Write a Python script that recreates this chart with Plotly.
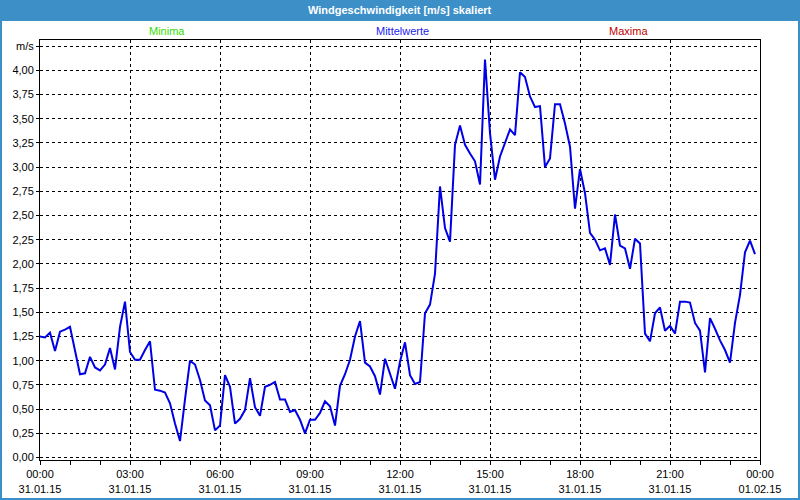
import plotly.graph_objects as go
import pandas as pd

# 10-minute mean wind speed values for 31.01.15 (m/s)
wind_values = [
    1.25, 1.24, 1.29, 1.10, 1.30, 1.32, 1.35, 1.12, 0.86, 0.87,
    1.04, 0.93, 0.90, 0.96, 1.13, 0.91, 1.35, 1.61, 1.09, 1.01,
    1.01, 1.11, 1.20, 0.70, 0.69, 0.67, 0.56, 0.35, 0.17, 0.60,
    1.00, 0.96, 0.80, 0.59, 0.54, 0.28, 0.33, 0.85, 0.73, 0.35,
    0.40, 0.49, 0.82, 0.52, 0.43, 0.73, 0.75, 0.78, 0.60, 0.60,
    0.47, 0.49, 0.39, 0.25, 0.39, 0.39, 0.46, 0.58, 0.53, 0.33,
    0.74, 0.86, 1.01, 1.25, 1.41, 0.98, 0.94, 0.84, 0.65, 1.02,
    0.87, 0.71, 0.99, 1.19, 0.85, 0.76, 0.78, 1.49, 1.58, 1.90,
    2.80, 2.37, 2.23, 3.23, 3.43, 3.23, 3.14, 3.06, 2.82, 4.11,
    3.35, 2.87, 3.11, 3.25, 3.39, 3.33, 3.98, 3.93, 3.73, 3.62,
    3.63, 3.00, 3.09, 3.65, 3.65, 3.45, 3.21, 2.57, 2.98, 2.73,
    2.32, 2.25, 2.14, 2.16, 1.99, 2.51, 2.19, 2.16, 1.95, 2.26,
    2.21, 1.28, 1.20, 1.49, 1.55, 1.31, 1.36, 1.28, 1.61, 1.61,
    1.60, 1.39, 1.31, 0.88, 1.44, 1.33, 1.21, 1.11, 0.98, 1.39,
    1.68, 2.12, 2.24, 2.10,
]
times = pd.date_range("2015-01-31 00:00", periods=len(wind_values), freq="10min")

x_tick_vals = ["2015-01-31 00:00", "2015-01-31 03:00", "2015-01-31 06:00", "2015-01-31 09:00",
               "2015-01-31 12:00", "2015-01-31 15:00", "2015-01-31 18:00", "2015-01-31 21:00",
               "2015-02-01 00:00"]
x_tick_text = ["00:00<br>31.01.15", "03:00<br>31.01.15", "06:00<br>31.01.15", "09:00<br>31.01.15",
               "12:00<br>31.01.15", "15:00<br>31.01.15", "18:00<br>31.01.15", "21:00<br>31.01.15",
               "00:00<br>01.02.15"]
y_tick_vals = [0, 0.25, 0.5, 0.75, 1, 1.25, 1.5, 1.75, 2, 2.25, 2.5, 2.75, 3, 3.25, 3.5, 3.75, 4, 4.25]
y_tick_text = ["0,00", "0,25", "0,50", "0,75", "1,00", "1,25", "1,50", "1,75", "2,00", "2,25",
               "2,50", "2,75", "3,00", "3,25", "3,50", "3,75", "4,00", "m/s"]

frame_blue = "#3d8fc8"

fig = go.Figure()
fig.add_trace(go.Scatter(
    x=times,
    y=wind_values,
    mode="lines",
    line=dict(color="#0000e6", width=2),
    name="Mittelwerte",
))

fig.update_layout(
    width=800,
    height=500,
    margin=dict(l=40, r=40, t=40, b=40, autoexpand=False),
    paper_bgcolor="white",
    plot_bgcolor="white",
    showlegend=False,
    font=dict(family="Liberation Sans", size=11, color="black"),
)

fig.update_xaxes(
    type="date",
    automargin=False,
    range=["2015-01-31 00:00", "2015-02-01 00:00"],
    tickvals=x_tick_vals,
    ticktext=x_tick_text,
    ticks="outside",
    ticklen=4,
    tickcolor="black",
    minor=dict(dtick=3600000, ticks="outside", ticklen=4, tickcolor="black", showgrid=False),
    showgrid=True,
    gridcolor="black",
    gridwidth=1,
    griddash="3px,3px",
    showline=True,
    linecolor="black",
    linewidth=1,
    mirror=True,
    zeroline=False,
)
fig.update_yaxes(
    automargin=False,
    range=[-0.026, 4.313],
    tickvals=y_tick_vals,
    ticktext=y_tick_text,
    ticks="outside",
    ticklen=3,
    tickcolor="black",
    showgrid=True,
    gridcolor="black",
    gridwidth=1,
    griddash="3px,3px",
    showline=True,
    linecolor="black",
    linewidth=1,
    mirror=True,
    zeroline=False,
)

# window title bar and frame
fig.add_shape(type="rect", xref="paper", yref="paper",
              x0=-0.0556, x1=1.0556, y0=1.0452, y1=1.0952,
              fillcolor=frame_blue, line=dict(width=0), layer="below")
fig.add_shape(type="rect", xref="paper", yref="paper",
              x0=-0.05417, x1=1.05417, y0=-0.09286, y1=1.09286,
              line=dict(color=frame_blue, width=2), fillcolor="rgba(0,0,0,0)")

fig.add_annotation(text="<b>Windgeschwindigkeit [m/s] skaliert</b>", xref="paper", yref="paper",
                   x=0.5, y=1.0714, showarrow=False, yanchor="middle",
                   font=dict(color="white", size=11))
fig.add_annotation(text="Minima", xref="paper", yref="paper", x=0.1486, y=1.0214,
                   showarrow=False, yanchor="middle", font=dict(color="#33dd00", size=11))
fig.add_annotation(text="Mittelwerte", xref="paper", yref="paper", x=0.5028, y=1.0214,
                   showarrow=False, yanchor="middle", font=dict(color="#2222ee", size=11))
fig.add_annotation(text="Maxima", xref="paper", yref="paper", x=0.8472, y=1.0214,
                   showarrow=False, yanchor="middle", font=dict(color="#c00000", size=11))

fig.write_html("out.html", config={"displayModeBar": False},
               post_script="document.body.style.margin='0';")
